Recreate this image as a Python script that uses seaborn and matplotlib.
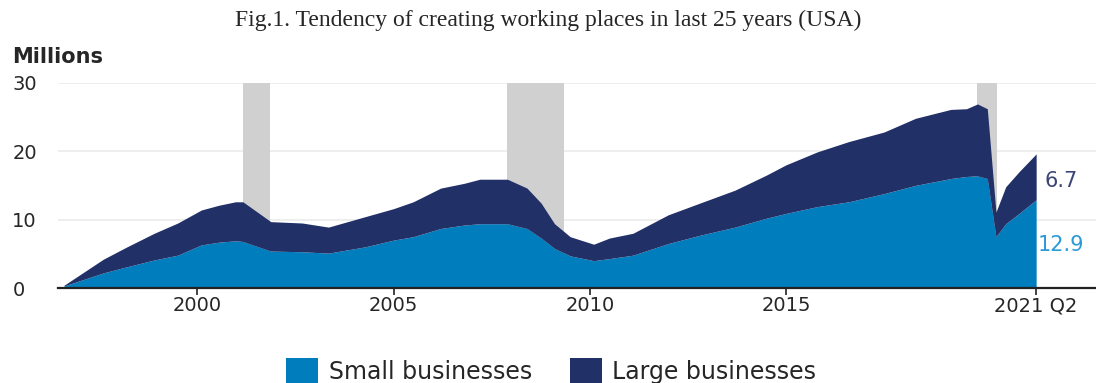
import matplotlib
matplotlib.use("Agg")
import matplotlib.pyplot as plt
from matplotlib.patches import Patch
import numpy as np
import seaborn as sns

# Values (millions of jobs created, cumulative)
years = [1996.6, 1997.6, 1998.2, 1998.9, 1999.5, 2000.1, 2000.55, 2000.97, 2001.16,
         2001.87, 2002.67, 2003.34, 2004.26, 2005.0, 2005.5, 2006.2, 2006.8, 2007.2,
         2007.9, 2008.4, 2008.76, 2009.1, 2009.5, 2010.1, 2010.5, 2011.1, 2012.0,
         2012.8, 2013.7, 2014.5, 2015.0, 2015.8, 2016.6, 2017.5, 2018.3, 2019.2,
         2019.6, 2019.88, 2020.13, 2020.35, 2020.6, 2020.94, 2021.375]
small = [0.3, 2.2, 3.1, 4.1, 4.8, 6.3, 6.7, 6.9, 6.8, 5.4, 5.3, 5.1, 6.0, 7.0, 7.5,
         8.7, 9.2, 9.4, 9.4, 8.7, 7.3, 5.8, 4.7, 4.0, 4.3, 4.8, 6.5, 7.7, 8.9, 10.2,
         10.9, 11.9, 12.6, 13.8, 15.0, 16.0, 16.3, 16.4, 16.0, 7.5, 9.4, 10.9, 12.9]
large = [0.1, 2.0, 2.9, 3.9, 4.7, 5.1, 5.4, 5.7, 5.8, 4.3, 4.2, 3.8, 4.4, 4.6, 5.1,
         5.9, 6.1, 6.5, 6.5, 5.9, 5.1, 3.6, 2.8, 2.4, 3.0, 3.2, 4.2, 4.7, 5.4, 6.3,
         7.1, 8.0, 8.8, 9.0, 9.8, 10.1, 9.9, 10.5, 10.2, 3.6, 5.4, 6.1, 6.7]

recessions = [(2001.15, 2001.86), (2007.9, 2009.35), (2019.87, 2020.37)]

tick_pos = [2000, 2005, 2010, 2015, 2021.375]
tick_labels = ["2000", "2005", "2010", "2015", "2021 Q2"]
y_ticks = [0, 10, 20, 30]

series_names = ["Small businesses", "Large businesses"]
small_color = "#007dbd"
large_color = "#213066"
text_color = "#262626"

sns.set_theme(style="white")
plt.rcParams["font.family"] = ["DejaVu Sans"]

fig = plt.figure(figsize=(10.96, 3.83), dpi=100)
ax = fig.add_axes([0.053, 0.248, 0.947, 0.536])

x = np.array(years)
s = np.array(small)
total = s + np.array(large)

for start, end in recessions:
    ax.axvspan(start, end, color="#d0d0d0", lw=0, zorder=1)

ax.fill_between(x, 0, s, color=small_color, lw=0, zorder=3)
ax.fill_between(x, s, total, color=large_color, lw=0, zorder=3)

ax.set_xlim(1996.45, 2022.9)
ax.set_ylim(0, 30)
ax.set_yticks(y_ticks)
ax.set_xticks(tick_pos)
ax.set_xticklabels(tick_labels)
ax.yaxis.grid(True, color="#ebebeb", lw=1.2, zorder=0)
ax.set_axisbelow(True)

for side in ["top", "right", "left"]:
    ax.spines[side].set_visible(False)
ax.spines["bottom"].set_color("#222222")
ax.spines["bottom"].set_linewidth(1.6)
ax.spines["bottom"].set_zorder(5)

ax.tick_params(axis="x", bottom=True, length=5, width=1.2, color="#222222",
               labelsize=14, labelcolor=text_color, pad=1)
ax.tick_params(axis="y", left=False, length=0, labelsize=14, labelcolor=text_color,
               pad=33)
for lbl in ax.get_yticklabels():
    lbl.set_horizontalalignment("left")

# end-of-series labels
ax.annotate(f"{large[-1]:.1f}", xy=(years[-1], s[-1] + large[-1] / 2), xytext=(6, -3),
            textcoords="offset points", color="#3b4677", fontsize=15,
            va="center", ha="left", annotation_clip=False)
ax.annotate(f"{small[-1]:.1f}", xy=(years[-1], s[-1] / 2), xytext=(1, -1),
            textcoords="offset points", color="#2b9ad8", fontsize=15,
            va="center", ha="left", annotation_clip=False)

fig.text(0.011, 0.85, "Millions", fontsize=15, fontweight="semibold", color=text_color,
         va="center", ha="left")
fig.suptitle("Fig.1. Tendency of creating working places in last 25 years (USA)",
             x=0.5, y=0.948, fontsize=17, family="Liberation Serif", va="center")

handles = [Patch(facecolor=small_color, edgecolor="none"),
           Patch(facecolor=large_color, edgecolor="none")]
fig.legend(handles, series_names, loc="lower center", bbox_to_anchor=(0.503, -0.06),
           ncol=2, frameon=False, fontsize=17, handlelength=1.35, handleheight=1.35,
           handletextpad=0.45, columnspacing=1.6, labelcolor=text_color)

fig.savefig("out.png", dpi=100)
